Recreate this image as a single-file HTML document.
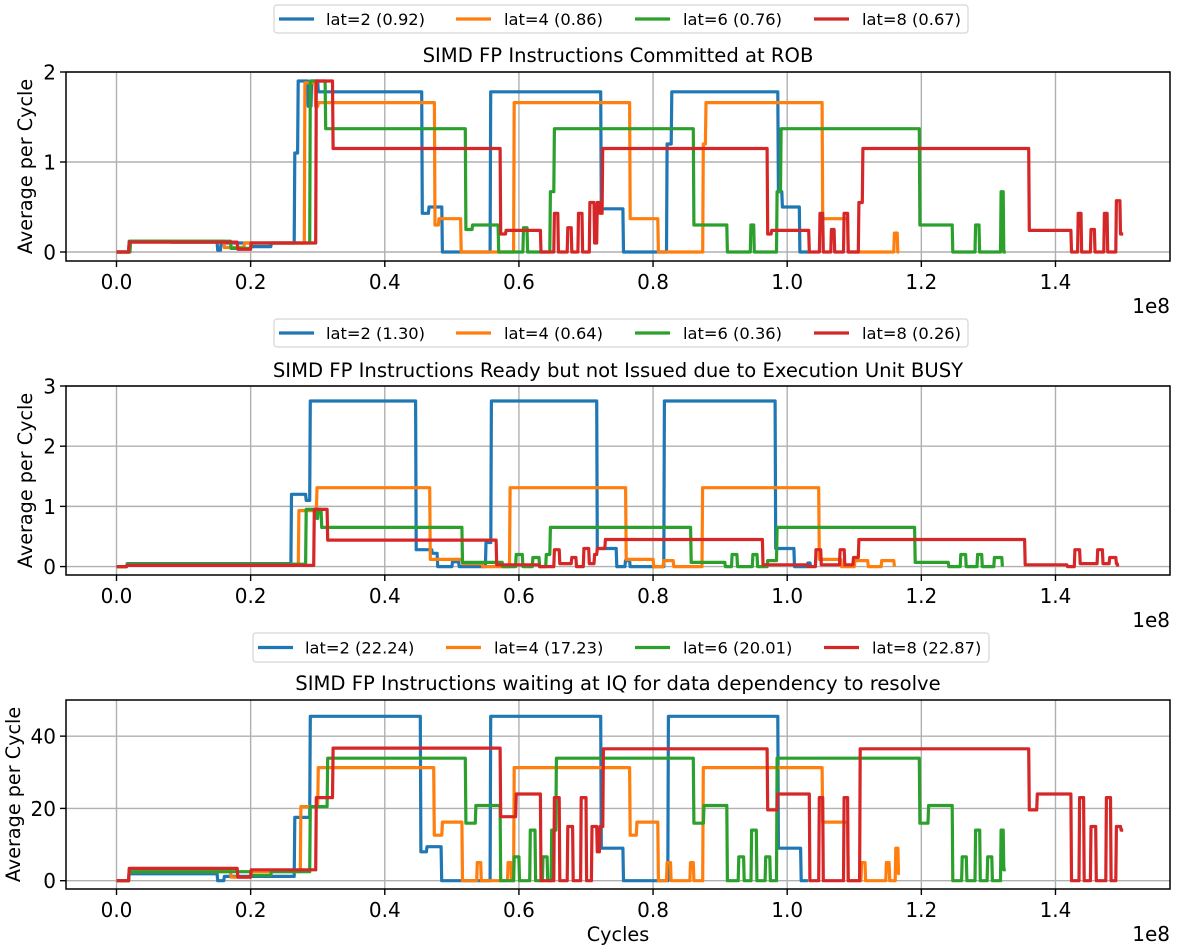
<!DOCTYPE html>
<html><head><meta charset="utf-8"><title>SIMD FP chart</title>
<style>
html,body{margin:0;padding:0;background:#fff;}
svg{display:block;font-family:"DejaVu Sans","Liberation Sans",sans-serif;}
</style></head>
<body>
<svg id="fig" width="1178" height="949" viewBox="0 0 1178 949" xmlns="http://www.w3.org/2000/svg"></svg>
<script>
// ---- data (x in units of 1e8 cycles) ----
const xTicks = [0.0, 0.2, 0.4, 0.6, 0.8, 1.0, 1.2, 1.4];
const xTickLabels = ["0.0","0.2","0.4","0.6","0.8","1.0","1.2","1.4"];
const seriesNames = ["lat=2","lat=4","lat=6","lat=8"];
const colors = ["#1f77b4","#ff7f0e","#2ca02c","#d62728"];

const titles = ["SIMD FP Instructions Committed at ROB",
  "SIMD FP Instructions Ready but not Issued due to Execution Unit BUSY",
  "SIMD FP Instructions waiting at IQ for data dependency to resolve"];
const legendValues1 = ["0.92","0.86","0.76","0.67"];
const legendValues2 = ["1.30","0.64","0.36","0.26"];
const legendValues3 = ["22.24","17.23","20.01","22.87"];
const yTicks1 = [0,1,2];
const yTicks2 = [0,1,2,3];
const yTicks3 = [0,20,40];

// step series: [x, y] = value y from x until next x
const p1Blue = [[0,0],[0.018,0.12],[0.08,0.11],[0.15,0.02],[0.155,0.1],[0.2,0.06],[0.23,0.1],[0.265,1.1],[0.27,1.9],[0.285,1.62],[0.29,1.9],[0.3,1.78],[0.455,0.43],[0.465,0.5],[0.485,0],[0.557,1.78],[0.722,0.48],[0.755,0],[0.82,1.2],[0.827,1.78],[0.986,0.67],[0.992,0.5],[1.018,0],[1.032,0]];
const p1Orange = [[0,0],[0.02,0.12],[0.16,0.05],[0.19,0.1],[0.28,1.88],[0.296,1.62],[0.3,1.66],[0.474,0.3],[0.48,0.37],[0.513,0],[0.592,1.66],[0.765,0.37],[0.807,0],[0.874,1.2],[0.878,1.66],[1.052,0.37],[1.09,0],[1.159,0.21],[1.164,0],[1.166,0]];
const p1Green = [[0,0],[0.02,0.12],[0.17,0.04],[0.2,0.1],[0.288,1.9],[0.311,1.37],[0.52,0.25],[0.53,0.3],[0.569,0],[0.606,0.27],[0.612,0],[0.646,0.67],[0.652,1.37],[0.86,0.3],[0.91,0],[0.945,0.3],[0.95,0],[0.984,0.67],[0.99,1.37],[1.197,0.3],[1.246,0],[1.28,0.3],[1.286,0],[1.318,0.67],[1.322,0],[1.325,0]];
const p1Red = [[0,0],[0.018,0.11],[0.18,0.03],[0.2,0.1],[0.297,1.9],[0.322,1.15],[0.572,0.2],[0.58,0.24],[0.632,0],[0.652,0.43],[0.658,0],[0.672,0.27],[0.678,0],[0.688,0.43],[0.694,0],[0.705,0.55],[0.712,0.1],[0.716,0.55],[0.72,0.43],[0.724,1.15],[0.97,0.2],[0.976,0.24],[1.032,0],[1.048,0.43],[1.053,0],[1.065,0.25],[1.07,0],[1.084,0.43],[1.09,0],[1.106,0.55],[1.112,1.15],[1.36,0.24],[1.423,0],[1.433,0.43],[1.438,0],[1.452,0.25],[1.458,0],[1.472,0.43],[1.477,0],[1.49,0.57],[1.496,0.2],[1.5,0.2]];

const p2Blue = [[0,0],[0.015,0.05],[0.26,1.2],[0.282,1.1],[0.288,2.75],[0.446,0.28],[0.47,0.22],[0.478,0],[0.5,0.08],[0.51,0],[0.55,0.4],[0.558,2.75],[0.716,0.3],[0.745,0],[0.758,0.1],[0.765,0],[0.816,2.75],[0.982,0.3],[1.01,0],[1.03,0.06],[1.034,0]];
const p2Orange = [[0,0],[0.015,0.04],[0.271,0.93],[0.298,1.31],[0.467,0.12],[0.515,0.05],[0.545,0],[0.586,1.31],[0.759,0.12],[0.8,0],[0.815,0.1],[0.83,0],[0.873,1.31],[1.047,0.12],[1.08,0],[1.1,0.1],[1.12,0],[1.14,0.1],[1.159,0]];
const p2Green = [[0,0],[0.015,0.04],[0.282,0.95],[0.298,0.8],[0.3,0.95],[0.305,0.65],[0.515,0.07],[0.575,0],[0.595,0.2],[0.605,0],[0.62,0.15],[0.63,0],[0.64,0.2],[0.646,0.65],[0.856,0.07],[0.907,0],[0.917,0.2],[0.925,0],[0.948,0.2],[0.955,0],[0.97,0.1],[0.984,0.65],[1.19,0.07],[1.24,0],[1.258,0.2],[1.266,0],[1.283,0.2],[1.29,0],[1.308,0.15],[1.32,0]];
const p2Red = [[0,0],[0.015,0.02],[0.294,0.95],[0.314,0.44],[0.566,0.03],[0.63,0],[0.652,0.28],[0.66,0.05],[0.678,0.15],[0.685,0],[0.696,0.3],[0.704,0.05],[0.712,0.2],[0.716,0.3],[0.728,0.45],[0.963,0.03],[1.03,0],[1.042,0.28],[1.05,0.03],[1.078,0.28],[1.085,0.03],[1.098,0.15],[1.106,0.45],[1.354,0.03],[1.417,0],[1.428,0.28],[1.436,0.05],[1.462,0.28],[1.47,0.05],[1.48,0.15],[1.49,0.05],[1.492,0]];

const p3Blue = [[0,0],[0.018,1.9],[0.15,0],[0.16,1.2],[0.265,17.5],[0.288,45.5],[0.453,8],[0.462,9.4],[0.484,0],[0.557,45.5],[0.722,9],[0.755,0],[0.822,45.5],[0.986,9],[1.02,0],[1.03,0]];
const p3Orange = [[0,0],[0.018,2.5],[0.17,1],[0.2,2.5],[0.274,20.5],[0.3,31.3],[0.473,12.6],[0.485,16.2],[0.515,0],[0.537,5],[0.543,0],[0.583,5],[0.588,0],[0.592,31.3],[0.765,12.6],[0.775,16.2],[0.807,0],[0.82,5],[0.826,0],[0.855,5],[0.86,0],[0.874,31.3],[1.052,16.2],[1.09,0],[1.11,5],[1.116,0],[1.147,5],[1.152,0],[1.161,9],[1.165,2],[1.167,2]];
const p3Green = [[0,0],[0.018,2.5],[0.2,1.5],[0.23,2.5],[0.288,20.5],[0.314,33.9],[0.52,15.9],[0.535,20.8],[0.572,0],[0.592,6.6],[0.6,0],[0.616,14],[0.624,0],[0.635,6.6],[0.642,0],[0.648,14],[0.655,33.9],[0.86,15.9],[0.875,20.8],[0.91,0],[0.927,6.6],[0.935,0],[0.946,14],[0.954,0],[0.967,6.6],[0.974,0],[0.984,33.9],[1.197,15.9],[1.21,20.8],[1.246,0],[1.26,6.6],[1.267,0],[1.28,14],[1.287,0],[1.298,6.6],[1.305,0],[1.318,14],[1.322,3],[1.325,3]];
const p3Red = [[0,0],[0.018,3.4],[0.18,1],[0.2,3],[0.297,23],[0.322,36.7],[0.572,17.7],[0.595,24],[0.632,0],[0.652,23],[0.66,0],[0.672,15],[0.68,0],[0.692,23],[0.7,0],[0.708,15],[0.716,8],[0.72,15],[0.725,36.5],[0.97,19.6],[0.985,24],[1.033,0],[1.047,23],[1.053,0],[1.084,23],[1.09,0],[1.108,36.5],[1.36,19.6],[1.372,24],[1.423,0],[1.435,23],[1.442,0],[1.452,15],[1.46,0],[1.475,23],[1.482,0],[1.49,15],[1.497,14],[1.5,14]];

const panels = [
  {series:[p1Blue,p1Orange,p1Green,p1Red], yTicks:yTicks1, legend:legendValues1, title:titles[0], yMin:-0.1, yMax:2.0, top:72, bottom:261, legL:274, legR:968, legT:5, legB:33, titleY:55, ylabX:32, lineX:[279,456,635,814], textX:[326,504,683,862]},
  {series:[p2Blue,p2Orange,p2Green,p2Red], yTicks:yTicks2, legend:legendValues2, title:titles[1], yMin:-0.14, yMax:3.0, top:386, bottom:575, legL:274, legR:968, legT:319, legB:347, titleY:370, ylabX:32, lineX:[279,456,635,814], textX:[326,504,683,862]},
  {series:[p3Blue,p3Orange,p3Green,p3Red], yTicks:yTicks3, legend:legendValues3, title:titles[2], yMin:-2.3, yMax:50, top:700, bottom:889, legL:253, legR:989, legT:633, legB:662, titleY:683, ylabX:20, lineX:[258,446,635,824], textX:[305,494,683,872]}
];

const NS = "http://www.w3.org/2000/svg";
const svg = document.getElementById("fig");
const AX_L = 66, AX_R = 1170;
const X0 = 116.5, XS = 670.7;
function xPos(v){ return X0 + v*XS; }
function mk(tag, attrs, parent){
  const e = document.createElementNS(NS, tag);
  for (const k in attrs) e.setAttribute(k, attrs[k]);
  (parent||svg).appendChild(e);
  return e;
}

panels.forEach((p, pi) => {
  const g = mk("g", {});
  
  
  const yPos = v => p.bottom - (v - p.yMin) / (p.yMax - p.yMin) * (p.bottom - p.top);

  xTicks.forEach((t, i) => {
    const gl = mk("line", {x1:xPos(t), x2:xPos(t), y1:p.top, y2:p.bottom, stroke:"#b0b0b0", "stroke-width":1.4}, g);
    
    
  });
  p.yTicks.forEach(t => {
    const gl = mk("line", {x1:AX_L, x2:AX_R, y1:yPos(t), y2:yPos(t), stroke:"#b0b0b0", "stroke-width":1.4}, g);
    
    
  });

  const cp = mk("clipPath", {id:"clip"+pi}, g);
  mk("rect", {x:AX_L, y:p.top, width:AX_R-AX_L, height:p.bottom-p.top}, cp);

  p.series.forEach((s, si) => {
    let d = "";
    for (let i = 0; i < s.length; i++) {
      const x = xPos(s[i][0]), y = yPos(s[i][1]);
      if (i === 0) d += "M" + x.toFixed(1) + " " + y.toFixed(1);
      else {
        const py = yPos(s[i-1][1]);
        d += " L" + x.toFixed(1) + " " + py.toFixed(1) + " L" + (x+0.6).toFixed(1) + " " + y.toFixed(1);
      }
    }
    const path = mk("path", {d:d, fill:"none", stroke:colors[si], "stroke-width":3.2, "stroke-linejoin":"round", "clip-path":"url(#clip"+pi+")"}, g);
    
    
  });

  const fr = mk("rect", {x:AX_L, y:p.top, width:AX_R-AX_L, height:p.bottom-p.top, fill:"none", stroke:"#000", "stroke-width":1.5}, g);
  
  

  xTicks.forEach((t, i) => {
    mk("line", {x1:xPos(t), x2:xPos(t), y1:p.bottom, y2:p.bottom+6, stroke:"#000", "stroke-width":1.4}, g);
    const tl = mk("text", {x:xPos(t), y:p.bottom+28, "text-anchor":"middle", "font-size":20, fill:"#000"}, g);
    tl.textContent = xTickLabels[i];
    
    
  });
  const off = mk("text", {x:AX_R, y:p.bottom+52, "text-anchor":"end", "font-size":20, fill:"#000"}, g);
  off.textContent = "1e8";
  
  

  p.yTicks.forEach(t => {
    mk("line", {x1:AX_L-6, x2:AX_L, y1:yPos(t), y2:yPos(t), stroke:"#000", "stroke-width":1.4}, g);
    const tl = mk("text", {x:AX_L-10, y:yPos(t)+7.5, "text-anchor":"end", "font-size":20, fill:"#000"}, g);
    tl.textContent = String(t);
    
    
  });
  const yl = mk("text", {x:0, y:0, "text-anchor":"middle", "font-size":19.2, fill:"#000", transform:"translate(" + p.ylabX + "," + ((p.top+p.bottom)/2) + ") rotate(-90)"}, g);
  yl.textContent = "Average per Cycle";
  
  

  const ti = mk("text", {x:(AX_L+AX_R)/2, y:p.titleY+7, "text-anchor":"middle", "font-size":19.6, fill:"#000"}, g);
  ti.textContent = p.title;
  
  

  const lg = mk("g", {}, g);
  
  
  mk("rect", {x:p.legL, y:p.legT, width:p.legR-p.legL, height:p.legB-p.legT, rx:3, fill:"#fff", "fill-opacity":0.8, stroke:"#d5d5d5", "stroke-width":1.2}, lg);
  const cy = (p.legT+p.legB)/2;
  seriesNames.forEach((n, si) => {
    const ent = mk("g", {}, lg);
    
    
    mk("line", {x1:p.lineX[si], x2:p.lineX[si]+35, y1:cy, y2:cy, stroke:colors[si], "stroke-width":3.2}, ent);
    const t = mk("text", {x:p.textX[si], y:cy+6, "font-size":16.3, fill:"#000"}, ent);
    t.textContent = n + " (" + p.legend[si] + ")";
  });
});

const xl = mk("text", {x:(AX_L+AX_R)/2, y:941, "text-anchor":"middle", "font-size":19.2, fill:"#000"});
xl.textContent = "Cycles";


</script>
</body></html>
